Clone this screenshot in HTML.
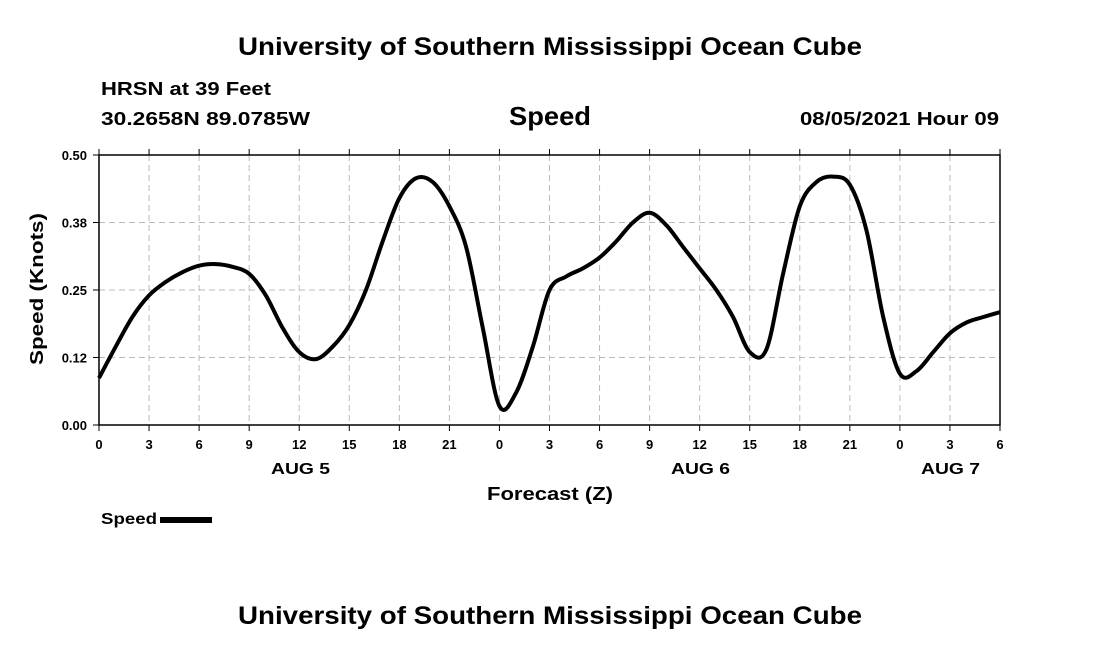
<!DOCTYPE html>
<html><head><meta charset="utf-8"><style>
body{margin:0;background:#fff;width:1100px;height:650px;overflow:hidden;font-family:"Liberation Sans",sans-serif}
</style></head><body>
<svg width="1100" height="650" font-family="Liberation Sans, sans-serif" font-weight="bold">
<text x="238" y="55" font-size="25" textLength="624" lengthAdjust="spacingAndGlyphs">University of Southern Mississippi Ocean Cube</text>
<text x="101" y="95" font-size="18" textLength="170" lengthAdjust="spacingAndGlyphs">HRSN at 39 Feet</text>
<text x="101" y="125" font-size="18" textLength="209" lengthAdjust="spacingAndGlyphs">30.2658N  89.0785W</text>
<text x="509" y="125" font-size="26" textLength="82" lengthAdjust="spacingAndGlyphs">Speed</text>
<text x="800" y="125" font-size="18" textLength="199" lengthAdjust="spacingAndGlyphs">08/05/2021 Hour 09</text>
<g id="grid"></g>
<rect x="99" y="155" width="901" height="270" fill="none" stroke="#000" stroke-width="1.5"/>
<g id="axes" font-size="13"></g>
<path id="line" fill="none" stroke="#000" stroke-width="4"/>
<text x="271" y="474" font-size="16" textLength="59" lengthAdjust="spacingAndGlyphs">AUG 5</text>
<text x="671" y="474" font-size="16" textLength="59" lengthAdjust="spacingAndGlyphs">AUG 6</text>
<text x="921" y="474" font-size="16" textLength="59" lengthAdjust="spacingAndGlyphs">AUG 7</text>
<text x="487" y="500" font-size="18" textLength="126" lengthAdjust="spacingAndGlyphs">Forecast (Z)</text>
<text transform="translate(43,365) rotate(-90)" font-size="18" textLength="152" lengthAdjust="spacingAndGlyphs">Speed (Knots)</text>
<text x="101" y="524" font-size="16" textLength="56" lengthAdjust="spacingAndGlyphs">Speed</text>
<rect x="160" y="517" width="52" height="6" fill="#000"/>
<text x="238" y="624" font-size="25" textLength="624" lengthAdjust="spacingAndGlyphs">University of Southern Mississippi Ocean Cube</text>
</svg>
<script>
const hours=[0,1,2,3,4,5,6,7,8,9,10,11,12,13,14,15,16,17,18,19,20,21,22,23,24,25,26,27,28,29,30,31,32,33,34,35,36,37,38,39,40,41,42,43,44,45,46,47,48,49,50,51,52,53,54];
const speeds=[0.087,0.145,0.2,0.24,0.265,0.283,0.295,0.298,0.293,0.28,0.24,0.18,0.135,0.122,0.145,0.185,0.25,0.34,0.42,0.457,0.45,0.405,0.33,0.18,0.035,0.06,0.145,0.25,0.275,0.29,0.31,0.34,0.375,0.393,0.37,0.33,0.29,0.25,0.2,0.135,0.14,0.28,0.405,0.45,0.46,0.445,0.36,0.2,0.095,0.1,0.135,0.17,0.19,0.2,0.209];
const xTicks=[0,3,6,9,12,15,18,21,24,27,30,33,36,39,42,45,48,51,54];
const xTickLabels=["0","3","6","9","12","15","18","21","0","3","6","9","12","15","18","21","0","3","6"];
const yTicks=[0,0.125,0.25,0.375,0.5];
const yTickLabels=["0.00","0.12","0.25","0.38","0.50"];
const X=h=>99+h*901/54, Y=v=>425-v*540;
const NS="http://www.w3.org/2000/svg";
const grid=document.getElementById('grid'), axes=document.getElementById('axes');
function mk(tag,attrs,parent){const e=document.createElementNS(NS,tag);for(const k in attrs)e.setAttribute(k,attrs[k]);parent.appendChild(e);return e;}
xTicks.forEach((t,i)=>{
 const g=mk('line',{x1:X(t),x2:X(t),y1:155,y2:425,stroke:'#bbb','stroke-dasharray':'6,4'},grid);
 
 
 const tk=mk('line',{x1:X(t),x2:X(t),y1:425,y2:431,stroke:'#000'},axes);
 
 
 const tt=mk('line',{x1:X(t),x2:X(t),y1:149,y2:155,stroke:'#000'},axes);
 
 
 const l=mk('text',{x:X(t),y:449,'text-anchor':'middle'},axes);l.textContent=xTickLabels[i];
 
 
});
yTicks.forEach((v,i)=>{
 const g=mk('line',{x1:99,x2:1000,y1:Y(v),y2:Y(v),stroke:'#bbb','stroke-dasharray':'6,4'},grid);
 
 
 const tk=mk('line',{x1:93,x2:99,y1:Y(v),y2:Y(v),stroke:'#000'},axes);
 
 
 const l=mk('text',{x:87,y:Y(v)+5,'text-anchor':'end'},axes);l.textContent=yTickLabels[i];
 
 
});
const pts=hours.map((h,i)=>[X(h),Y(speeds[i])]);
let d='M'+pts[0][0]+','+pts[0][1];
for(let i=0;i<pts.length-1;i++){
 const p0=pts[Math.max(i-1,0)],p1=pts[i],p2=pts[i+1],p3=pts[Math.min(i+2,pts.length-1)];
 d+=` C${p1[0]+(p2[0]-p0[0])/6},${p1[1]+(p2[1]-p0[1])/6} ${p2[0]-(p3[0]-p1[0])/6},${p2[1]-(p3[1]-p1[1])/6} ${p2[0]},${p2[1]}`;
}
document.getElementById('line').setAttribute('d',d);
</script>
</body></html>
